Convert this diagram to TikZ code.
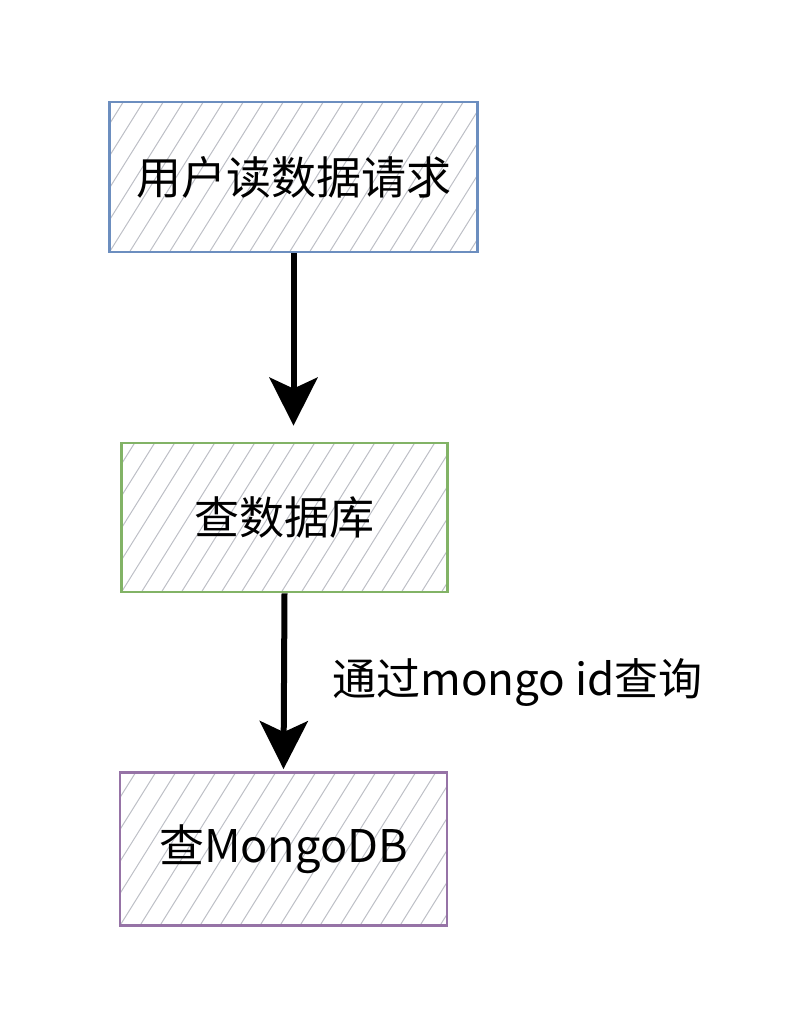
\documentclass[tikz,border=0pt]{standalone}
\usepackage{fontspec}
\setmainfont{Noto Sans CJK SC}
\usetikzlibrary{arrows.meta,positioning}

\definecolor{boxblue}{HTML}{6C8EBF}
\definecolor{boxgreen}{HTML}{82B366}
\definecolor{boxpurple}{HTML}{9673A6}
\definecolor{hatchgray}{HTML}{BDBFC6}

\tikzset{
	stepbox/.style={draw=#1, line width=2.8pt, inner sep=0pt,
		font=\fontsize{45}{50}\selectfont,
		path picture={
			\foreach \i in {-22,...,22}
				\draw[hatchgray, line width=1pt]
					([xshift=\i*20pt]path picture bounding box.south west) -- ++(58:420pt);
		}},
	flow/.style={-{Stealth[length=48pt, width=48pt, inset=11pt]}, line width=6pt}
}

\begin{document}
\begin{tikzpicture}[x=1pt, y=-1pt]
		\useasboundingbox (0,0) rectangle (796,1024);
		
		\node[stepbox=boxblue, minimum width=368pt, minimum height=150pt] (req) at (293.5,177) {用户读数据请求};
		\node[stepbox=boxgreen, minimum width=326pt, minimum height=149pt] (db) at (284.5,517.5) {查数据库};
		\node[stepbox=boxpurple, minimum width=327pt, minimum height=153pt] (mongo) at (283.5,849) {查MongoDB};
		
		\draw[flow, shorten >=16pt] (req.south) -- (req.south |- db.north);
		\draw[flow, shorten >=2pt] (db.south) -- (mongo.north)
			node[midway, right=42pt, font=\fontsize{44}{50}\selectfont] (via) {通过mongo id查询};
	\end{tikzpicture}
\end{document}
